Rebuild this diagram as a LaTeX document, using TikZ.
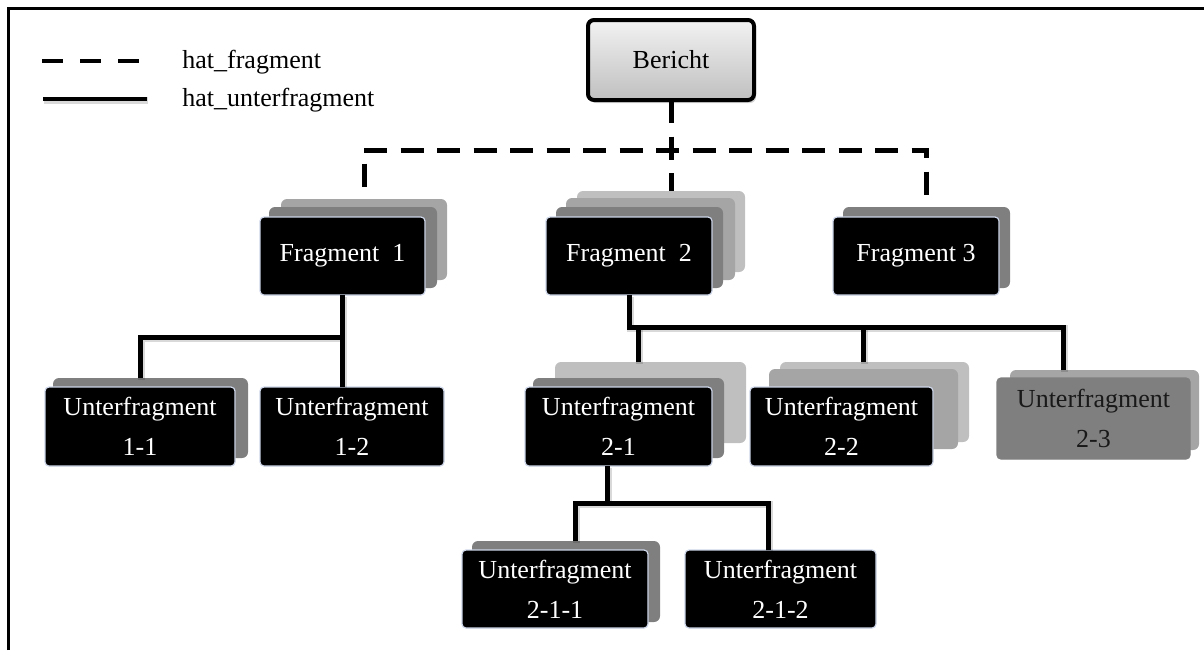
\documentclass[tikz,border=0pt]{standalone}
\usepackage{fontspec}
\setmainfont{Liberation Serif}
\usetikzlibrary{shadows}
\definecolor{gA}{HTML}{7F7F7F}
\definecolor{gB}{HTML}{A5A5A5}
\definecolor{gC}{HTML}{BFBFBF}
\definecolor{edgeblue}{RGB}{205,213,232}
\newcommand{\mybox}[7][]{%
  \node[#1, minimum width={(#5-#3)*0.5pt}, minimum height={(#6-#4)*0.5pt}] (#2) at ({(#3+#5)/2},{(#4+#6)/2}) {#7};}
\tikzset{
  shadowbox/.style={rectangle, rounded corners=3pt, inner sep=0pt, outer sep=0pt},
  sA/.style={shadowbox, fill=gA},
  sB/.style={shadowbox, fill=gB},
  sC/.style={shadowbox, fill=gC},
  frontbox/.style={rectangle, rounded corners=2pt, fill=black, draw=edgeblue, line width=0.6pt,
    text=white, inner sep=0pt, outer sep=0pt, align=center, font=\fontsize{13}{20}\selectfont},
  graybox/.style={frontbox, fill=gA, draw=gA, text=black!90},
  rootbox/.style={rectangle, rounded corners=3pt, draw=black, line width=2pt,
    top color=black!5, bottom color=black!25, inner sep=0pt, outer sep=0pt,
    font=\fontsize{13}{15}\selectfont,
    drop shadow={shadow xshift=1pt, shadow yshift=-1.5pt, opacity=0.35}},
  conn/.style={line width=2.5pt,
    preaction={draw=black, opacity=0.15, line width=3.5pt, transform canvas={xshift=0.5pt,yshift=-0.9pt}}},
  dconn/.style={line width=2.5pt, dash pattern=on 11.5pt off 6.75pt, dash phase=#1},
  dconn/.default=0pt,
  legdash/.style={line width=2pt, dash pattern=on 10.5pt off 8.5pt},
  legendtext/.style={anchor=west, inner sep=0pt, font=\fontsize{13}{15}\selectfont},
}
\begin{document}
\begin{tikzpicture}[x={(0.5pt,0)}, y={(0,-0.5pt)}]
\useasboundingbox (0,0) rectangle (1204,650);
% frame
\coordinate (fr1) at (8,650);
\coordinate (fr2) at (8,8);
\coordinate (fr3) at (1204,8);
\draw[line width=1.5pt] (fr1) -- (fr2) -- (fr3);

% legend
\coordinate (la1) at (42,61);
\coordinate (la2) at (140,61);
\coordinate (lb1) at (43,99);
\coordinate (lb2) at (147,99);
\draw[legdash] (la1) -- (la2);
\draw[conn, line width=2pt] (lb1) -- (lb2);
\node[legendtext] (lt1) at (182,62) {hat\_fragment};
\node[legendtext] (lt2) at (182,100) {hat\_unterfragment};

% root
\mybox[rootbox]{bericht}{588}{20}{754}{100}{Bericht}

% fragments
\mybox[sB]{f1s2}{281}{199}{447}{280}{}
\mybox[sA]{f1s1}{269}{207}{437}{288}{}
\mybox[frontbox]{f1}{260}{217}{425}{295}{Fragment\ \ 1}

\mybox[sC]{f2s3}{577}{191}{745}{272}{}
\mybox[sB]{f2s2}{566}{198}{735}{280}{}
\mybox[sA]{f2s1}{556}{207}{723}{288}{}
\mybox[frontbox]{f2}{546}{217}{712}{295}{Fragment\ \ 2}

\mybox[sA]{f3s1}{843}{207}{1010}{288}{}
\mybox[frontbox]{f3}{833}{217}{999}{295}{Fragment 3}

% sub fragments row 2
\mybox[sA]{u11s1}{53}{378}{248}{458}{}
\mybox[frontbox]{u11}{45}{387}{235}{466}{Unterfragment\\1-1}
\mybox[frontbox]{u12}{260}{387}{444}{466}{Unterfragment\\1-2}

\mybox[sC]{u21s2}{555}{362}{746}{443}{}
\mybox[sA]{u21s1}{533}{378}{724}{458}{}
\mybox[frontbox]{u21}{525}{387}{712}{466}{Unterfragment\\2-1}

\mybox[sC]{u22s2}{780}{362}{969}{442}{}
\mybox[sB]{u22s1}{769}{369}{958}{449}{}
\mybox[frontbox]{u22}{750}{387}{933}{466}{Unterfragment\\2-2}

\mybox[sB]{u23s1}{1010}{370}{1199}{450}{}
\mybox[graybox]{u23}{997}{378}{1190}{459}{Unterfragment\\2-3}

% row 3
\mybox[sA]{u211s1}{472}{541}{660}{622}{}
\mybox[frontbox]{u211}{462}{550}{648}{628}{Unterfragment\\2-1-1}
\mybox[frontbox]{u212}{685}{550}{876}{628}{Unterfragment\\2-1-2}

% dashed connectors (hat_fragment)
\coordinate (hub) at (671,150);
\draw[dconn] (bericht.south) -- (bericht.south |- f2s3.north);
\draw[dconn] (f1s2.north |- hub) -| (f3s1.north);
\draw[dconn=11.5pt] (f1s2.north |- hub) -- (f1s2.north);

% F1 children
\coordinate (j1) at (342,337);
\draw[conn] (f1.south) -- (f1.south |- u12.north);
\draw[conn] (f1.south |- j1) -| (u11.north |- u11s1.north);

% F2 children
\coordinate (j2) at (629,327);
\coordinate (d21) at (638,362);
\coordinate (d22) at (863,362);
\coordinate (d23) at (1063,370);
\draw[conn] (f2.south) |- (d23 |- j2) -- (d23);
\draw[conn] (d21 |- j2) -- (d21);
\draw[conn] (d22 |- j2) -- (d22);

% 2-1 children
\coordinate (j3) at (607,503);
\coordinate (d211) at (575,541);
\coordinate (d212) at (768,550);
\draw[conn] (j3 |- u21.south) -- (j3);
\draw[conn] (d211) |- (d212 |- j3) -- (d212);
\end{tikzpicture}
\end{document}
